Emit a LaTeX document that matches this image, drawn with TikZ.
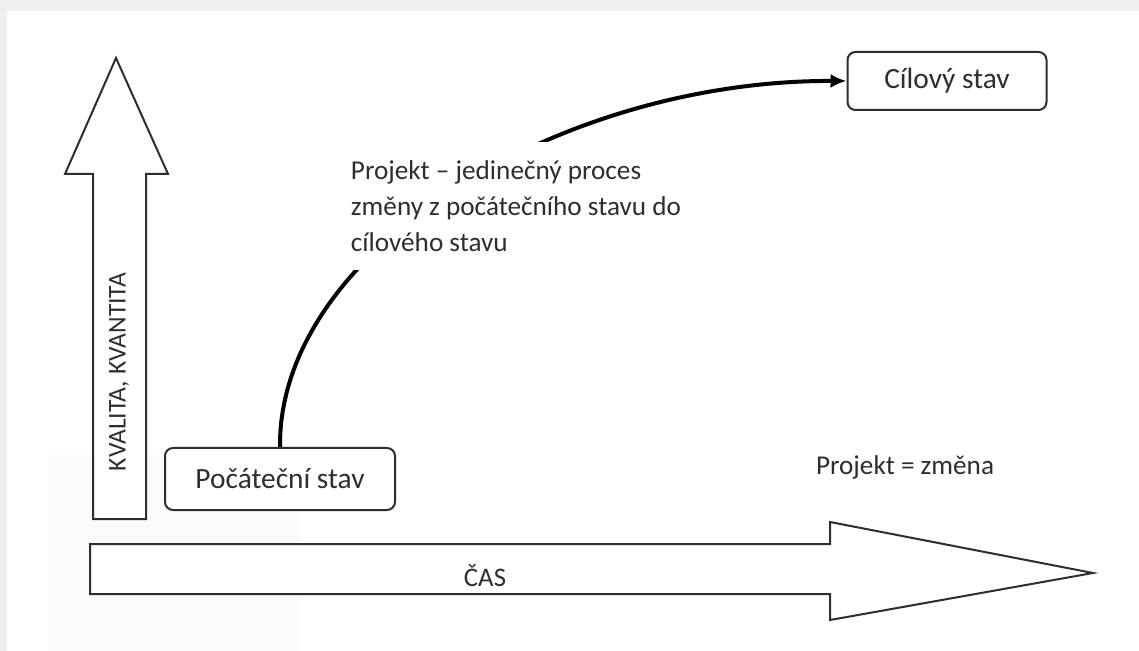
\documentclass[tikz,border=0pt]{standalone}
\usepackage{fontspec}
\setmainfont{Carlito}
\usetikzlibrary{arrows.meta}

\definecolor{ink}{HTML}{2E2E2E}
\definecolor{scan}{HTML}{EFEFEF}

\tikzset{
  bigarrow/.style = {draw=ink, line width=1pt, fill=white, line join=miter},
  statebox/.style = {draw=ink, line width=1pt, rounded corners=4pt, fill=white,
                     text=ink, font=\fontsize{14.7}{17}\selectfont},
  label/.style    = {text=ink, font=\fontsize{13.6}{18}\selectfont},
  change/.style   = {line width=2pt, -{Latex[length=8pt,width=7pt]}}
}

\begin{document}
\begin{tikzpicture}[x=0.5pt, y=-0.5pt]
\useasboundingbox (0,0) rectangle (1139,651) ;
\fill[white] (0,0) rectangle (1139,651) ;
\fill[scan] (0,0) rectangle (1139,11) ;
\fill[scan] (0,0) rectangle (7,651) ;
\fill[black!1.5] (48,455) rectangle (300,651) ;

% axes
\draw [bigarrow] (93,519) -- (93,174) -- (65,174) -- (116,58) -- (168,174) -- (146,174) -- (146,519) -- cycle ;
\draw [bigarrow] (90,544) -- (830,544) -- (830,522) -- (1093,573) -- (830,620) -- (830,594) -- (90,594) -- cycle ;
\node (quality) [label, rotate=90, font=\fontsize{12.8}{15}\selectfont] at (119,372) {KVALITA, KVANTITA} ;
\node (time) [label, font=\fontsize{13.4}{15}\selectfont] at (485,576) {ČAS} ;

% states
\node (start) [statebox, minimum width=115pt, minimum height=31pt] at (280,479) {Počáteční stav} ;
\node (goal) [statebox, minimum width=99.5pt, minimum height=29pt] at (947,81) {Cílový stav} ;
\draw [change] (start.north) .. controls (278,250) and (560,80) .. (goal.west) ;

\node (process) [label, align=left, fill=white, inner xsep=3pt, inner ysep=9pt] at (516,206)
  {Projekt – jedinečný proces\\změny z počátečního stavu do\\cílového stavu} ;
\node (motto) [label] at (905,467) {Projekt = změna} ;
\end{tikzpicture}
\end{document}
